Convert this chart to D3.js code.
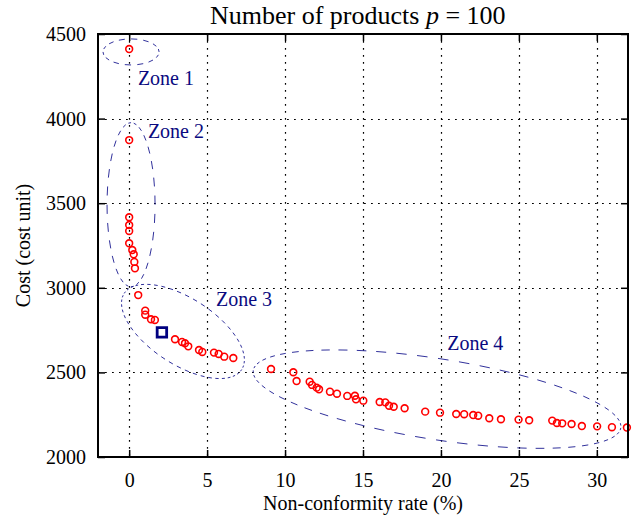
<!DOCTYPE html>
<html>
<head>
<meta charset="utf-8">
<script src="https://cdn.jsdelivr.net/npm/d3@7"></script>
<style>
  html, body { margin: 0; padding: 0; background: #fff; }
  svg { display: block; }
  text { font-family: "Liberation Serif", "Times New Roman", Times, serif; fill: #000; }
</style>
</head>
<body>
<svg id="chart" width="643" height="523"></svg>
<script>
// ---------------- data ----------------
const rate = [
  0,
  0, 0, 0, 0, 0, 0.2, 0.29, 0.33, 0.37,
  0.58, 1.03, 1.03, 1.40, 1.65, 2.94, 3.39, 3.58, 3.79, 4.48, 4.69, 5.44, 5.74, 6.10, 6.68,
  9.10, 10.53, 10.74, 11.58, 11.73, 12.03, 12.18, 12.88, 13.33, 13.99, 14.48, 14.55, 15.02,
  16.07, 16.43, 16.67, 16.97, 17.67, 18.99, 19.94, 20.98, 21.49, 22.07, 22.39, 23.10, 23.85,
  24.98, 25.66, 27.14, 27.44, 27.78, 28.38, 29.04, 30.02, 30.97, 31.93
];
const cost = [
  4411,
  3873, 3417, 3371, 3336, 3263, 3223, 3198, 3153, 3115,
  2957, 2865, 2841, 2814, 2810, 2696, 2680, 2672, 2654, 2632, 2621, 2617, 2609, 2593, 2585,
  2520, 2501, 2449, 2445, 2426, 2410, 2400, 2386, 2374, 2361, 2362, 2341, 2333,
  2325, 2323, 2303, 2297, 2288, 2268, 2262, 2254, 2253, 2248, 2244, 2229, 2223,
  2221, 2217, 2215, 2201, 2199, 2195, 2183, 2181, 2176, 2174
];
const refRate = [2.10];
const refCost = [2737];

const xTicks = [0, 5, 10, 15, 20, 25, 30];
const yTicks = [2000, 2500, 3000, 3500, 4000, 4500];

const zoneNames = ["Zone 1", "Zone 2", "Zone 3", "Zone 4"];
const zoneLabelRate = [0.56, 1.2, 5.57, 20.4];
const zoneLabelCost = [4199, 3885, 2893, 2632];
// ellipse centres (data units) and conjugate semi-axes (data units)
const zoneCenterRate = [0.12, 0.12, 3.45, 19.75];
const zoneCenterCost = [4394, 3491, 2742, 2342];
const zoneAxisU = [[1.80, 0], [1.54, 0], [3.77, -225], [11.79, -170]];
const zoneAxisV = [[0, 77], [0, 485], [-1.15, -164], [-0.40, -236]];
const zoneSegments = [28, 56, 96, 110];

// ---------------- layout ----------------
const svg = d3.select("#chart");
const L = 98, R = 628, T = 34, B = 457;
const x = d3.scaleLinear().domain([-2, 32]).range([L, R]);
const y = d3.scaleLinear().domain([2000, 4500]).range([B, T]);

const fontSize = 20;

// grid
const grid = svg.append("g").attr("stroke", "#000").attr("stroke-width", 1.2)
  .attr("stroke-dasharray", "1.8,5.2");
grid.selectAll(".gx").data(xTicks).join("line")
  .attr("x1", d => Math.round(x(d)) + 0.5).attr("x2", d => Math.round(x(d)) + 0.5)
  .attr("y1", T).attr("y2", B);
grid.selectAll(".gy").data(yTicks).join("line")
  .attr("y1", d => Math.round(y(d)) + 0.5).attr("y2", d => Math.round(y(d)) + 0.5)
  .attr("x1", L).attr("x2", R);

// zone ellipses: alternate segments of a uniformly-sampled parametric curve
const ell = svg.append("g").attr("fill", "none").attr("stroke", "#1a1a90").attr("stroke-width", 0.9);
zoneNames.forEach((name, i) => {
  const n = zoneSegments[i];
  const pts = d3.range(n + 1).map(k => {
    const t = 2 * Math.PI * k / n;
    const r = zoneCenterRate[i] + zoneAxisU[i][0] * Math.cos(t) + zoneAxisV[i][0] * Math.sin(t);
    const c = zoneCenterCost[i] + zoneAxisU[i][1] * Math.cos(t) + zoneAxisV[i][1] * Math.sin(t);
    return [x(r), y(c)];
  });
  let d = "";
  for (let k = 0; k < n; k += 2) {
    d += "M" + pts[k][0].toFixed(2) + "," + pts[k][1].toFixed(2) +
         "L" + pts[k + 1][0].toFixed(2) + "," + pts[k + 1][1].toFixed(2);
  }
  ell.append("path").attr("d", d);
});

// points
svg.append("g").selectAll("circle").data(rate.map((r, i) => [r, cost[i]])).join("circle")
  .attr("cx", d => x(d[0])).attr("cy", d => y(d[1])).attr("r", 3.4)
  .attr("fill", "none").attr("stroke", "#ff0000").attr("stroke-width", 1.6);

// reference square
svg.append("g").selectAll("path").data(refRate.map((r, i) => [r, refCost[i]])).join("path")
  .attr("d", d3.symbol(d3.symbolSquare, 90)())
  .attr("transform", d => `translate(${x(d[0])},${y(d[1])})`)
  .attr("fill", "none").attr("stroke", "#000080").attr("stroke-width", 2.8);

// axes (inward ticks)
function styleAxis(g) {
  g.select(".domain").remove();
  g.selectAll(".tick line").attr("stroke", "#000").attr("stroke-width", 1.5);
  g.selectAll(".tick text").attr("font-size", fontSize)
    .attr("font-family", '"Liberation Serif", "Times New Roman", serif').attr("fill", "#000");
}
svg.append("g").attr("transform", `translate(0,${B})`)
  .call(d3.axisBottom(x).tickValues(xTicks).tickFormat(d3.format("d")).tickSizeInner(-7).tickSizeOuter(0).tickPadding(16))
  .call(styleAxis);
svg.append("g").attr("transform", `translate(0,${T})`)
  .call(d3.axisTop(x).tickValues(xTicks).tickFormat("").tickSizeInner(-7).tickSizeOuter(0))
  .call(styleAxis);
svg.append("g").attr("transform", `translate(${L},0)`)
  .call(d3.axisLeft(y).tickValues(yTicks).tickFormat(d3.format("d")).tickSizeInner(-7).tickSizeOuter(0).tickPadding(12))
  .call(styleAxis);
svg.append("g").attr("transform", `translate(${R},0)`)
  .call(d3.axisRight(y).tickValues(yTicks).tickFormat("").tickSizeInner(-7).tickSizeOuter(0))
  .call(styleAxis);

// frame
svg.append("rect").attr("x", L).attr("y", T).attr("width", R - L).attr("height", B - T)
  .attr("fill", "none").attr("stroke", "#000").attr("stroke-width", 2);

// zone labels
svg.append("g").selectAll("text").data(zoneNames).join("text")
  .attr("x", (d, i) => x(zoneLabelRate[i])).attr("y", (d, i) => y(zoneLabelCost[i]))
  .attr("font-size", fontSize).style("fill", "#0a0a80").text(d => d);

// title
const title = svg.append("text").attr("x", 210).attr("y", 24).attr("font-size", 26);
title.append("tspan").text("Number of products ");
title.append("tspan").attr("font-style", "italic").text("p");
title.append("tspan").text(" = 100");

// axis titles
svg.append("text").attr("x", (L + R) / 2).attr("y", 510).attr("text-anchor", "middle")
  .attr("font-size", fontSize).text("Non-conformity rate (%)");
svg.append("text").attr("transform", `translate(30,${(T + B) / 2}) rotate(-90)`)
  .attr("text-anchor", "middle").attr("font-size", fontSize).text("Cost (cost unit)");
</script>
</body>
</html>
